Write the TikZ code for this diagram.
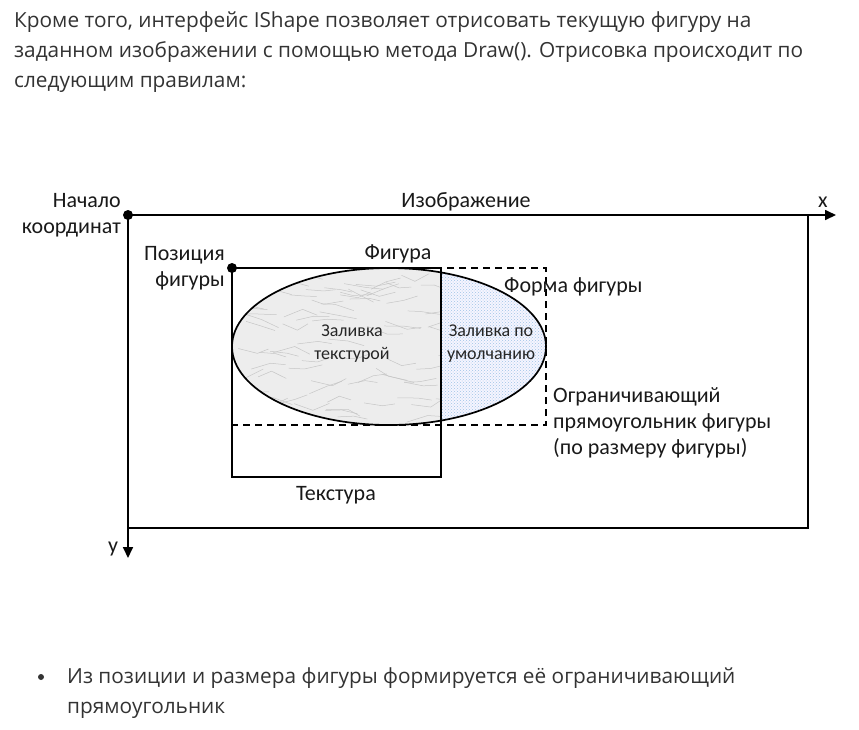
\documentclass[tikz,border=0pt]{standalone}
\usepackage{fontspec}
\setmainfont{Open Sans}
\newfontfamily\diagfont{Carlito}
\usetikzlibrary{arrows.meta,patterns}
\definecolor{dotblue}{RGB}{160,195,230}
\definecolor{pagetext}{RGB}{51,51,51}

\begin{document}
\begin{tikzpicture}[x=1pt, y=-1pt,
    frame/.style={draw, line width=1.7pt},
    bound/.style={draw, line width=1.7pt, dash pattern=on 7pt off 5pt},
    dot/.style={circle, fill, minimum size=10pt, inner sep=0pt},
    lbl/.style={font=\diagfont\fontsize{22}{26}\selectfont, inner sep=0pt, align=center, text=black!90},
    small/.style={font=\diagfont\fontsize{18}{23}\selectfont, inner sep=0pt, align=center, text=black!85},
    para/.style={font=\fontsize{20.8}{30}\selectfont, text=pagetext, inner sep=0pt, anchor=base west}]
  \useasboundingbox (0,0) rectangle (859,729);
  % text of the page
  \node[para] (p1) at (14,27) {Кроме того, интерфейс IShape позволяет отрисовать текущую фигуру на};
  \node[para] (p2) at (14,57) {заданном изображении с помощью метода Draw(). Отрисовка происходит по};
  \node[para] (p3) at (14,87) {следующим правилам:};

  % points and ends of the axes
  \node[dot] (origin) at (128,215) {};
  \node[dot] (pos) at (232,268) {};
  \coordinate (xend) at (836,215);
  \coordinate (yend) at (128,558);
  \coordinate (imgc) at (808,528);
  \coordinate (texc) at (441,477);
  \coordinate (boundc) at (546,425);
  \coordinate (shapec) at (389,346.5);

  % texture part of the shape
  \begin{scope}
    \clip (shapec) ellipse [x radius=157, y radius=78.5];
    \clip (pos.center) rectangle (texc);
    \fill[gray!14] (232,260) rectangle (441,430);
    \pgfmathsetseed{7}
    \foreach \i in {1,...,90}{
      \pgfmathsetmacro\vx{220+230*rnd}
      \pgfmathsetmacro\vy{262+170*rnd}
      \draw[gray!45, line width=0.5pt] (\vx,\vy) -- ++(12+10*rnd, 8*rand) -- ++(10+10*rnd, 8*rand);
    }
  \end{scope}
  % default fill
  \begin{scope}
    \clip (shapec) ellipse [x radius=157, y radius=78.5];
    \clip (texc |- pos) rectangle (boundc);
    \fill[blue!4] (441,260) rectangle (550,430);
    \fill[pattern=crosshatch dots, pattern color=dotblue] (441,260) rectangle (550,430);
  \end{scope}

  \draw[frame] (shapec) ellipse [x radius=157, y radius=78.5];
  \draw[bound] (pos.center) rectangle (boundc);
  \draw[frame] (pos.center) rectangle (texc);
  \draw[frame] (origin.center) rectangle (imgc);
  \draw[frame, -{Triangle[length=11pt, width=10pt]}] (origin.center) -- (xend);
  \draw[frame, -{Triangle[length=11pt, width=10pt]}] (origin.center) -- (yend);

  % labels
  \node[lbl, anchor=east, align=right] (origtxt) at (121,215) {Начало\\координат};
  \node[lbl] (imgtxt) at (466,202) {Изображение};
  \node[lbl] (xtxt) at (823,202) {x};
  \node[lbl] (ytxt) at (113,549) {y};
  \node[lbl, anchor=east, align=right] (postxt) at (225,268) {Позиция\\фигуры};
  \node[lbl] (figtxt) at (398,254) {Фигура};
  \node[lbl, anchor=west] (formtxt) at (504,287) {Форма фигуры};
  \node[small] (textxt) at (352,344) {Заливка\\текстурой};
  \node[small] (deftxt) at (491,344) {Заливка по\\умолчанию};
  \node[lbl, anchor=west, align=left] (boundtxt) at (553,423) {Ограничивающий\\прямоугольник фигуры\\(по размеру фигуры)};
  \node[lbl] (texname) at (336,495) {Текстура};

  % bullet item
  \node[circle, fill=pagetext, minimum size=6pt, inner sep=0pt] (bul) at (41,677) {};
  \node[para] (b1) at (67,683) {Из позиции и размера фигуры формируется её ограничивающий};
  \node[para] (b2) at (67,713) {прямоугольник};
\end{tikzpicture}
\end{document}
